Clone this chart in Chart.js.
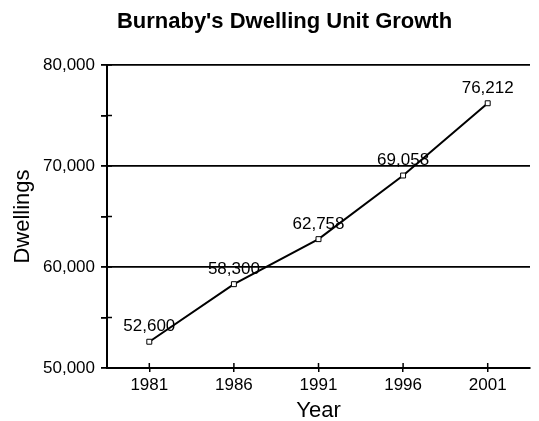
<!DOCTYPE html>
<html>
<head>
<meta charset="utf-8">
<script src="https://cdn.jsdelivr.net/npm/chart.js@4/dist/chart.umd.min.js"></script>
<style>
html,body{margin:0;padding:0;background:#fff;}
#wrap{width:539px;height:421px;position:relative;}
</style>
</head>
<body>
<div id="wrap"><canvas id="c" width="539" height="421"></canvas></div>
<script>
const categories = ['1981', '1986', '1991', '1996', '2001'];
const dwellings = [52600, 58300, 62758, 69058, 76212];
const pointLabels = ['52,600', '58,300', '62,758', '69,058', '76,212'];
const yTickValues = [50000, 60000, 70000, 80000];

const FONT = "'Liberation Sans', Arial, sans-serif";

const labelPlugin = {
  id: 'pointLabels',
  afterDatasetsDraw(chart) {
    const ctx = chart.ctx;
    const meta = chart.getDatasetMeta(0);
    ctx.save();
    ctx.font = '17px ' + FONT;
    ctx.fillStyle = '#000';
    ctx.textAlign = 'center';
    ctx.textBaseline = 'middle';
    meta.data.forEach((pt, i) => {
      ctx.fillText(pointLabels[i], pt.x, pt.y - 15);
    });
    ctx.restore();
  }
};

const innerTicks = {
  id: 'innerTicks',
  afterLayout(chart) {
    if (chart.titleBlock) {
      chart.titleBlock.left = 39;
      chart.titleBlock.right = 530;
    }
  },
  afterDraw(chart) {
    const ctx = chart.ctx;
    const xs = chart.scales.x, ys = chart.scales.y;
    ctx.save();
    ctx.strokeStyle = '#000';
    ctx.lineWidth = 1.5;
    ys.ticks.forEach(t => {
      const y = ys.getPixelForValue(t.value);
      ctx.beginPath();
      ctx.moveTo(ys.right, y);
      ctx.lineTo(ys.right + 5, y);
      ctx.stroke();
    });
    xs.ticks.forEach((t, i) => {
      const x = xs.getPixelForTick(i);
      ctx.beginPath();
      ctx.moveTo(x, xs.top);
      ctx.lineTo(x, xs.top - 5);
      ctx.stroke();
    });
    ctx.restore();
  }
};

new Chart(document.getElementById('c'), {
  type: 'line',
  data: {
    labels: categories,
    datasets: [{
      data: dwellings,
      borderColor: '#000',
      borderWidth: 2,
      pointStyle: 'rect',
      pointRadius: 3.5,
      pointBackgroundColor: '#fff',
      pointBorderColor: '#000',
      pointBorderWidth: 1,
      tension: 0
    }]
  },
  options: {
    responsive: false,
    animation: false,
    layout: { padding: { left: 0, right: 9, top: 0, bottom: 0 } },
    plugins: {
      legend: { display: false },
      tooltip: { enabled: false },
      title: {
        display: true,
        text: "Burnaby's Dwelling Unit Growth",
        color: '#000',
        font: { family: FONT, size: 22, weight: 'bold', lineHeight: 1.2 },
        padding: { top: 8.8, bottom: 29.8 }
      }
    },
    scales: {
      x: {
        offset: true,
        border: { display: true, color: '#000', width: 2 },
        grid: { drawOnChartArea: false, drawTicks: true, tickLength: 4, color: '#000', lineWidth: 1.5 },
        ticks: { color: '#000', font: { family: FONT, size: 17 }, padding: 3, maxRotation: 0 },
        title: { display: true, text: 'Year', color: '#000', font: { family: FONT, size: 22, lineHeight: 0.9 }, padding: { top: 0, bottom: 0 } },
        afterFit(s) { s.height = 53; }
      },
      y: {
        min: 50000,
        max: 80000,
        border: { display: true, color: '#000', width: 2 },
        grid: {
          drawTicks: true,
          tickLength: 6,
          lineWidth: 1.8,
          color: (c) => (c.tick && yTickValues.includes(c.tick.value) ? '#000' : 'rgba(0,0,0,0)'),
          tickColor: '#000'
        },
        ticks: {
          stepSize: 5000,
          color: '#000',
          font: { family: FONT, size: 17 },
          padding: 6,
          callback: (v) => (yTickValues.includes(v) ? v.toLocaleString('en-US') : '')
        },
        title: { display: true, text: 'Dwellings', color: '#000', font: { family: FONT, size: 22 }, padding: { top: 10, bottom: 0 } },
        afterFit(s) { s.width = 107; }
      }
    }
  },
  plugins: [labelPlugin, innerTicks]
});
</script>
</body>
</html>
